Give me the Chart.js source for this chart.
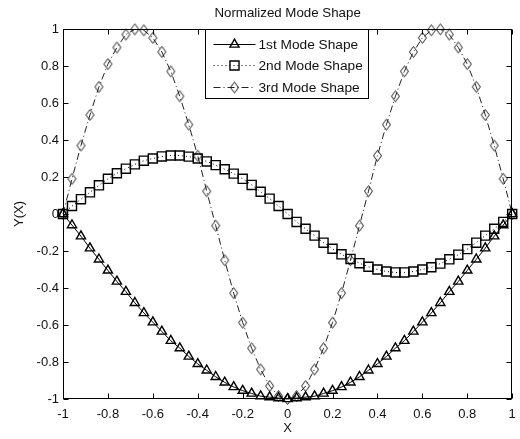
<!DOCTYPE html>
<html>
<head>
<meta charset="utf-8">
<script src="https://cdn.jsdelivr.net/npm/chart.js@4.4.1/dist/chart.umd.min.js"></script>
<style>
  html, body { margin: 0; padding: 0; background: #fff; }
  #wrap { width: 520px; height: 439px; }
</style>
</head>
<body>
<div id="wrap"><canvas id="c" width="520" height="439"></canvas></div>
<script>
// Sample positions along the beam (normalised coordinate)
const xValues = [
  -1, -0.96, -0.92, -0.88, -0.84, -0.8, -0.76, -0.72, -0.68, -0.64, -0.6, -0.56, -0.52,
  -0.48, -0.44, -0.4, -0.36, -0.32, -0.28, -0.24, -0.2, -0.16, -0.12, -0.08, -0.04, 0,
  0.04, 0.08, 0.12, 0.16, 0.2, 0.24, 0.28, 0.32, 0.36, 0.4, 0.44, 0.48, 0.52, 0.56,
  0.6, 0.64, 0.68, 0.72, 0.76, 0.8, 0.84, 0.88, 0.92, 0.96, 1
];

// 1st mode shape
const mode1 = [
  0, -0.06, -0.12, -0.185, -0.245, -0.305, -0.365, -0.42, -0.48, -0.535, -0.585, -0.635, -0.685,
  -0.725, -0.77, -0.81, -0.845, -0.88, -0.91, -0.935, -0.955, -0.97, -0.985, -0.99, -0.995, -1,
  -0.995, -0.99, -0.985, -0.97, -0.955, -0.935, -0.91, -0.88, -0.845, -0.81, -0.77, -0.725, -0.685, -0.635,
  -0.585, -0.535, -0.48, -0.42, -0.365, -0.305, -0.245, -0.185, -0.12, -0.06, 0
];

// 2nd mode shape
const mode2 = [
  0, 0.043, 0.08, 0.117, 0.155, 0.19, 0.22, 0.245, 0.268, 0.288, 0.3, 0.311, 0.316,
  0.316, 0.31, 0.3, 0.284, 0.264, 0.242, 0.218, 0.19, 0.157, 0.12, 0.083, 0.043, 0,
  -0.043, -0.08, -0.117, -0.155, -0.188, -0.218, -0.243, -0.266, -0.285, -0.3, -0.311, -0.316, -0.316, -0.311,
  -0.3, -0.288, -0.268, -0.245, -0.22, -0.19, -0.155, -0.117, -0.08, -0.043, 0
];

// 3rd mode shape
const mode3 = [
  0, 0.19, 0.37, 0.535, 0.687, 0.81, 0.9, 0.97, 0.998, 0.993, 0.952, 0.876, 0.771,
  0.636, 0.483, 0.315, 0.123, -0.063, -0.25, -0.428, -0.587, -0.726, -0.84, -0.93, -0.984, -1,
  -0.984, -0.93, -0.84, -0.726, -0.587, -0.428, -0.25, -0.063, 0.123, 0.315, 0.483, 0.636, 0.771, 0.876,
  0.952, 0.993, 0.998, 0.97, 0.9, 0.81, 0.687, 0.535, 0.37, 0.19, 0
];

const seriesNames = ['1st Mode Shape', '2nd Mode Shape', '3rd Mode Shape'];
const xTickLabels = ['-1', '-0.8', '-0.6', '-0.4', '-0.2', '0', '0.2', '0.4', '0.6', '0.8', '1'];
const yTickLabels = ['-1', '-0.8', '-0.6', '-0.4', '-0.2', '0', '0.2', '0.4', '0.6', '0.8', '1'];

const FONT = 'Liberation Sans, Arial, Helvetica, sans-serif';
const INK = '#000';

// Open diamond marker (taller than wide)
function diamondMarker(w, h, color, lw) {
  const c = document.createElement('canvas');
  c.width = w + 3; c.height = h + 3;
  const g = c.getContext('2d');
  g.strokeStyle = color; g.lineWidth = lw;
  const cx = c.width / 2, cy = c.height / 2;
  g.beginPath();
  g.moveTo(cx, cy - h / 2);
  g.lineTo(cx + w / 2, cy);
  g.lineTo(cx, cy + h / 2);
  g.lineTo(cx - w / 2, cy);
  g.closePath();
  g.stroke();
  return c;
}
const diamond = diamondMarker(8, 11, '#222', 1);

function points(ys) { return xValues.map((x, i) => ({ x: x, y: ys[i] })); }

const datasets = [
  { label: seriesNames[0], data: points(mode1), borderColor: INK, borderWidth: 1,
    borderDash: [], pointStyle: 'triangle', pointRadius: 5.3, pointBorderWidth: 1.4 },
  { label: seriesNames[1], data: points(mode2), borderColor: INK, borderWidth: 1,
    borderDash: [1, 3], pointStyle: 'rect', pointRadius: 6.4, pointBorderWidth: 1.4 },
  { label: seriesNames[2], data: points(mode3), borderColor: '#222', borderWidth: 1,
    borderDash: [7, 3, 1, 3], pointStyle: diamond, pointRadius: 6, pointBorderWidth: 1 }
].map(d => Object.assign(d, {
  pointBorderColor: d.borderColor,
  pointBackgroundColor: 'rgba(0,0,0,0)',
  pointHoverRadius: d.pointRadius,
  tension: 0, fill: false, clip: false
}));

// Box around the axes with inward tick marks on all four sides
const axesBox = {
  id: 'axesBox',
  afterDatasetsDraw(chart) {
    const { ctx, chartArea: a, scales: { x, y } } = chart;
    const L = Math.round(a.left) + 0.5, R = Math.round(a.right) - 0.5;
    const T = Math.round(a.top) + 0.5, B = Math.round(a.bottom) - 0.5;
    const tl = 5;
    ctx.save();
    ctx.strokeStyle = INK; ctx.lineWidth = 1; ctx.setLineDash([]);
    ctx.beginPath();
    x.ticks.forEach(t => {
      const px = Math.round(x.getPixelForValue(t.value)) + 0.5;
      ctx.moveTo(px, B); ctx.lineTo(px, B - tl);
      ctx.moveTo(px, T); ctx.lineTo(px, T + tl);
    });
    y.ticks.forEach(t => {
      const py = Math.round(y.getPixelForValue(t.value)) + 0.5;
      ctx.moveTo(L, py); ctx.lineTo(L + tl, py);
      ctx.moveTo(R, py); ctx.lineTo(R - tl, py);
    });
    ctx.stroke();
    ctx.strokeRect(L, T, R - L, B - T);
    ctx.restore();
  }
};

// Boxed legend in the upper middle of the axes, line sample with marker
const boxedLegend = {
  id: 'boxedLegend',
  afterDraw(chart) {
    const { ctx, chartArea: a } = chart;
    const left = Math.round(a.left) + 142.5, top = Math.round(a.top) + 0.5;
    const w = 163, h = 69;
    ctx.save();
    ctx.fillStyle = '#fff';
    ctx.fillRect(left, top, w, h);
    ctx.strokeStyle = INK; ctx.lineWidth = 1; ctx.setLineDash([]);
    ctx.strokeRect(left, top, w, h);
    chart.data.datasets.forEach((ds, i) => {
      const cy = Math.round(top + 14 + i * 21.5) + 0.5;
      const x0 = left + 8, x1 = left + 50, xm = (x0 + x1) / 2;
      ctx.strokeStyle = ds.borderColor;
      ctx.lineWidth = ds.borderWidth;
      ctx.setLineDash(ds.borderDash);
      ctx.beginPath(); ctx.moveTo(x0, cy); ctx.lineTo(x1, cy); ctx.stroke();
      ctx.setLineDash([]);
      ctx.fillStyle = 'rgba(0,0,0,0)';
      ctx.lineWidth = ds.pointBorderWidth;
      ctx.strokeStyle = ds.pointBorderColor;
      Chart.helpers.drawPoint(ctx, {
        pointStyle: ds.pointStyle, radius: ds.pointRadius, rotation: 0,
        borderWidth: ds.pointBorderWidth
      }, xm, cy);
      ctx.fillStyle = '#111';
      ctx.font = '13.7px ' + FONT;
      ctx.textBaseline = 'middle';
      ctx.textAlign = 'left';
      ctx.fillText(ds.label, x1 + 3, cy + 0.5);
    });
    ctx.restore();
  }
};

new Chart(document.getElementById('c'), {
  type: 'line',
  data: { datasets: datasets },
  plugins: [axesBox, boxedLegend],
  options: {
    responsive: false,
    animation: false,
    devicePixelRatio: 1,
    layout: { padding: { left: 0, right: 4, top: 0, bottom: 0 } },
    plugins: {
      legend: { display: false },
      tooltip: { enabled: false },
      title: {
        display: true,
        fullSize: false,
        text: 'Normalized Mode Shape',
        color: '#111',
        font: { family: FONT, size: 13.3, weight: 'normal' },
        padding: { top: 5, bottom: 8 }
      }
    },
    scales: {
      x: {
        type: 'linear', min: -1, max: 1,
        afterFit: s => { s.height = 40; s.paddingLeft = 0; s.paddingRight = 0; },
        grid: { display: false, drawTicks: false },
        border: { display: false },
        ticks: {
          stepSize: 0.2, padding: 8, color: '#111', maxRotation: 0,
          font: { family: FONT, size: 13 },
          callback: (v, i) => xTickLabels[i]
        },
        title: { display: true, text: 'X', color: '#111',
          font: { family: FONT, size: 13 }, padding: { top: 4, bottom: 3 } }
      },
      y: {
        type: 'linear', min: -1, max: 1,
        afterFit: s => { s.width = 63; s.paddingTop = 0; s.paddingBottom = 0; },
        grid: { display: false, drawTicks: false },
        border: { display: false },
        ticks: {
          stepSize: 0.2, padding: 4, color: '#111',
          font: { family: FONT, size: 13 },
          callback: (v, i) => yTickLabels[i]
        },
        title: { display: true, text: 'Y(X)', color: '#111',
          font: { family: FONT, size: 13 }, padding: { top: 12, bottom: 4 } }
      }
    }
  }
});
</script>
</body>
</html>
